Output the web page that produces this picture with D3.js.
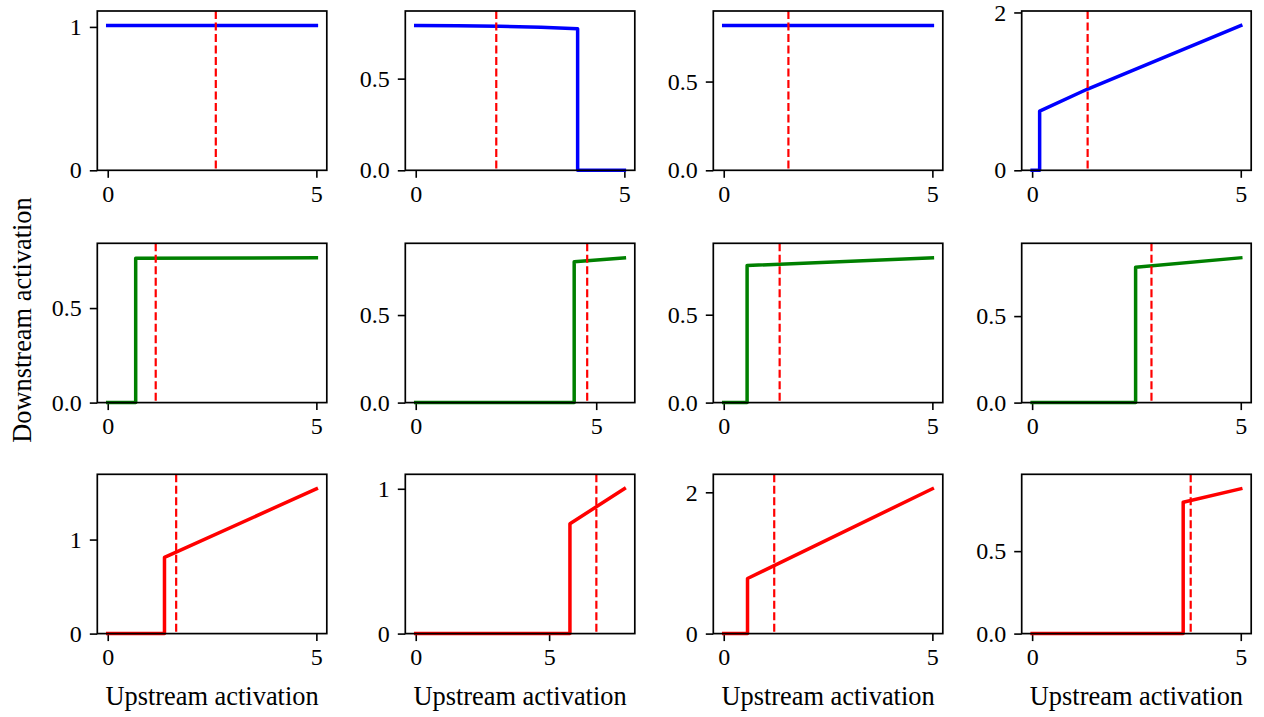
<!DOCTYPE html>
<html>
<head>
<meta charset="utf-8">
<script src="https://cdn.jsdelivr.net/npm/d3@7"></script>
<style>
  html, body { margin: 0; padding: 0; background: #fff; }
  svg text { font-family: "Liberation Serif", "Times New Roman", serif; fill: #000; }
</style>
</head>
<body>
<div id="myPlot"></div>
<script>
// Set Dimensions
const width = 1264;
const height = 717;
const colLeft = [97.3, 405.3, 713.3, 1021.7];
const rowTop = [11, 243.3, 474.3];
const panelW = 229.5;
const panelH = 159.3;

// Data: one curve per panel, [upstream, downstream]
const curves = [
  [[0, 1.01], [5, 1.01]],
  [[0, 0.79], [1, 0.789], [2, 0.786], [3, 0.781], [3.88, 0.772], [3.88, 0], [5, 0]],
  [[0, 0.816], [5, 0.816]],
  [[0, 0], [0.18, 0], [0.18, 0.75], [1.33, 1.03], [5, 1.835]],
  [[0, 0], [0.67, 0], [0.67, 0.763], [5, 0.766]],
  [[0, 0], [4.39, 0], [4.39, 0.805], [5.78, 0.827]],
  [[0, 0], [0.56, 0], [0.56, 0.78], [5, 0.824]],
  [[0, 0], [2.48, 0], [2.48, 0.782], [5, 0.837]],
  [[0, 0], [1.36, 0], [1.36, 0.81], [5, 1.54]],
  [[0, 0], [5.78, 0], [5.78, 0.759], [7.82, 1.0]],
  [[0, 0], [0.57, 0], [0.57, 0.78], [5, 2.05]],
  [[0, 0], [3.62, 0], [3.62, 0.796], [5, 0.878]]
];

// dashed threshold per panel
const thresholds = [2.59, 1.93, 1.55, 1.33, 1.15, 4.75, 1.34, 2.86, 1.64, 6.77, 1.21, 3.80];

// tick labels
const xTicks = [0, 5];
const yTicks = [
  [0, 1], [0, 0.5], [0, 0.5], [0, 2],
  [0, 0.5], [0, 0.5], [0, 0.5], [0, 0.5],
  [0, 1], [0, 1], [0, 2], [0, 0.5]
];
const rowColors = ["#0000ff", "#008000", "#ff0000"];

const xLabel = "Upstream activation";
const yLabel = "Downstream activation";

// Append SVG Object to the Page
const svg = d3.select("#myPlot")
  .append("svg")
  .attr("width", width)
  .attr("height", height);

curves.forEach((data, i) => {
  const row = Math.floor(i / 4);
  const col = i % 4;
  const xmax = d3.max(data, d => d[0]);
  const ymax = d3.max(data, d => d[1]);

  const x = d3.scaleLinear()
    .domain([-0.05 * xmax, 1.05 * xmax])
    .range([0, panelW]);
  const y = d3.scaleLinear()
    .domain([0, 1.1 * ymax])
    .range([panelH, 0]);

  const g = svg.append("g")
    .attr("transform", `translate(${colLeft[col]},${rowTop[row]})`);

  const step = yTicks[i][1] - yTicks[i][0];
  const fmt = step < 1 ? d3.format(".1f") : d3.format("d");

  // X Axis
  const xAxis = g.append("g")
    .attr("transform", `translate(0,${panelH})`)
    .call(d3.axisBottom(x).tickValues(xTicks).tickSize(7.5).tickPadding(7).tickFormat(d3.format("d")));

  // Y Axis
  const yAxis = g.append("g")
    .call(d3.axisLeft(y).tickValues(yTicks[i]).tickSize(7.5).tickPadding(8).tickFormat(fmt));

  [xAxis, yAxis].forEach(a => {
    a.attr("font-family", "Liberation Serif, serif").attr("font-size", 24);
    a.select(".domain").remove();
    a.selectAll("line").attr("stroke", "#000").attr("stroke-width", 1.6);
    a.selectAll("text")
      .style("font-family", "'Liberation Serif', serif")
      .style("font-size", "24px");
  });

  // curve
  g.append("path")
    .datum(data)
    .attr("fill", "none")
    .attr("stroke", rowColors[row])
    .attr("stroke-width", 3.5)
    .attr("stroke-linejoin", "round")
    .attr("stroke-linecap", "square")
    .attr("d", d3.line().x(d => x(d[0])).y(d => y(d[1])));

  // dashed threshold line
  g.append("line")
    .attr("x1", x(thresholds[i]))
    .attr("x2", x(thresholds[i]))
    .attr("y1", 0)
    .attr("y2", panelH)
    .attr("stroke", "#ff0000")
    .attr("stroke-width", 2.2)
    .attr("stroke-dasharray", "8,3.5");

  // frame
  g.append("rect")
    .attr("width", panelW)
    .attr("height", panelH)
    .attr("fill", "none")
    .attr("stroke", "#000")
    .attr("stroke-width", 1.7);

  if (row === 2) {
    g.append("text") // x-axis label
      .attr("x", panelW / 2)
      .attr("y", panelH + 71)
      .style("font-size", "26.4px")
      .style("text-anchor", "middle")
      .text(xLabel);
  }
});

svg.append("text") // y-axis label
  .attr("transform", "rotate(-90)")
  .attr("x", -320)
  .attr("y", 31)
  .style("font-size", "26.4px")
  .style("text-anchor", "middle")
  .text(yLabel);
</script>
</body>
</html>
